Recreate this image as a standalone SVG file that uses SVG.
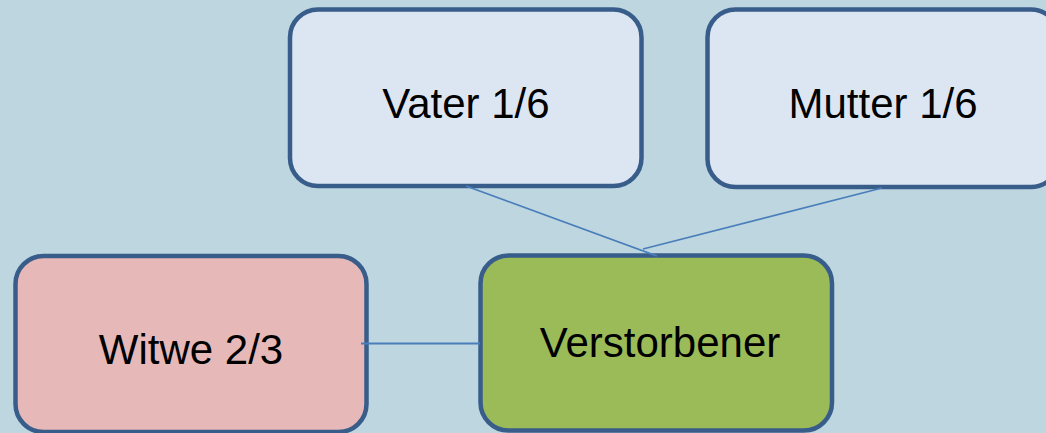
<svg xmlns="http://www.w3.org/2000/svg" width="1046" height="433" viewBox="0 0 1046 433">
  <style>
    .box { stroke: #385D8A; stroke-width: 4.5; }
    .parent { fill: #DCE6F2; }
    .spouse { fill: #E6B9B8; }
    .self { fill: #9BBB59; }
    .label { font-family: "Liberation Sans", Arial, sans-serif; font-size: 42px; fill: #000000; text-anchor: middle; }
    .link { stroke: #4A7EBB; stroke-width: 1.8; fill: none; }
  </style>
  <rect width="1046" height="433" fill="#BDD6DF"/>

  <g id="vater">
    <rect class="box parent" x="290" y="9.5" width="351.5" height="176.5" rx="28" ry="28"/>
    <text class="label" x="466" y="118">Vater 1/6</text>
  </g>

  <g id="mutter">
    <rect class="box parent" x="707.5" y="9.5" width="351.5" height="177.5" rx="28" ry="28"/>
    <text class="label" x="883" y="118">Mutter 1/6</text>
  </g>

  <g id="witwe">
    <rect class="box spouse" x="15.5" y="256" width="351" height="176" rx="28" ry="28"/>
    <text class="label" x="191" y="363.5">Witwe 2/3</text>
  </g>

  <g id="verstorbener">
    <rect class="box self" x="480.5" y="255.5" width="351.5" height="175" rx="28" ry="28"/>
    <text class="label" x="660" y="357">Verstorbener</text>
  </g>

  <!-- links are painted over the box outlines -->
  <g id="connectors">
    <line class="link" x1="466" y1="186" x2="657" y2="256"/>
    <line class="link" x1="882" y1="188" x2="643" y2="249"/>
    <line class="link" x1="361" y1="343.5" x2="480" y2="343.5"/>
  </g>
</svg>
